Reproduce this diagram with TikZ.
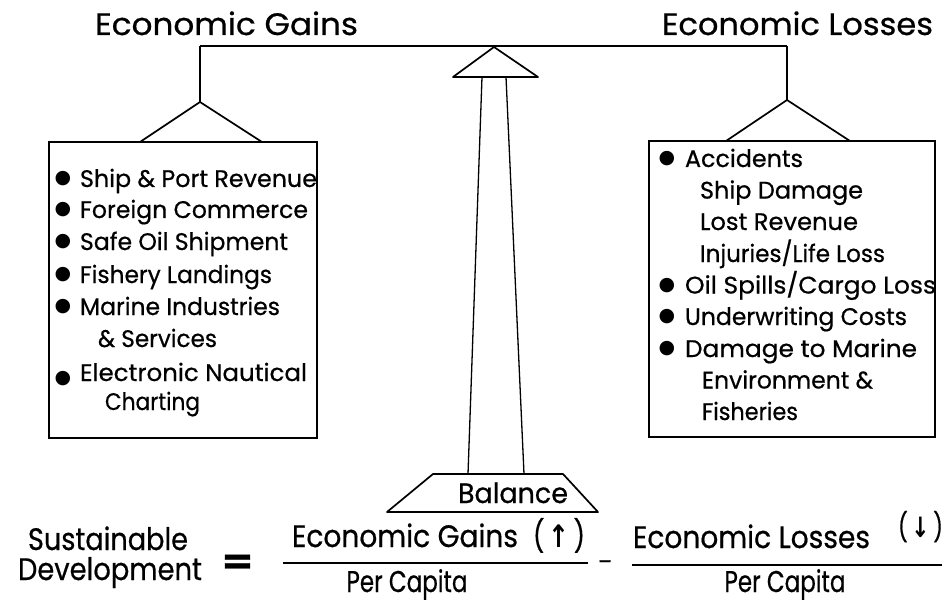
\documentclass[tikz,border=0pt]{standalone}
\usepackage{fontspec}
\usepackage{graphicx}
\setmainfont{Poppins}[FakeBold=0.6]
\newfontfamily\symfont{DejaVu Sans}
% set a text to a given width, keeping its natural height
\newcommand\fitw[2]{\resizebox{#1}{\height}{#2}}

\begin{document}
\begin{tikzpicture}[x=1pt,y=-1pt,
  every node/.style={inner sep=0pt,outer sep=0pt},
  big/.style={font=\fontsize{31}{36}\selectfont,anchor=base west},
  item/.style={font=\fontsize{24}{30}\selectfont,anchor=base west},
  dot/.style={font=\symfont\fontsize{19}{20}\selectfont,anchor=center},
  beam/.style={line width=2.6pt},
  frame/.style={line width=1.7pt},
  post/.style={line width=1.3pt}]

\useasboundingbox (0,0) rectangle (947,604);

% ---- balance beam and hangers ----
\coordinate (bl) at (200,46);
\coordinate (br) at (787,46);
\coordinate (lapex) at (200,102);
\coordinate (rapex) at (787,100);
\draw[beam] (bl) -- (br);
\draw[frame] (bl) -- (lapex);
\draw[frame] (br) -- (rapex);
\draw[frame] (140,142) -- (lapex) -- (262,142);
\draw[frame] (726,141) -- (rapex) -- (850,141);

% ---- boxes ----
\node[draw,frame,anchor=north west,minimum width=268pt,minimum height=296pt] (lbox) at (49,142) {};
\node[draw,frame,anchor=north west,minimum width=286pt,minimum height=296pt] (rbox) at (649,141) {};

% ---- fulcrum, post and base ----
\draw[frame,line join=round] (494,47) -- (453,77) -- (538,77) -- cycle;
\draw[post] (482,77) -- (468,474);
\draw[post] (506,77) -- (524,474);
\draw[frame,line join=round] (433,474) -- (563,474) -- (598,512) -- (387,512) -- cycle;
\node[font=\fontsize{28}{32}\selectfont,anchor=base west] (bal) at (458,503) {\fitw{110pt}{Balance}};

% ---- headings ----
\node[big] (gains) at (95,35) {\fitw{263pt}{Economic Gains}};
\node[big] (losses) at (662,35) {\fitw{271pt}{Economic Losses}};

% ---- gains list ----
\foreach \x/\y/\w/\t [count=\i] in {
  80/187/237/{Ship \& Port Revenue},
  80/218/228/{Foreign Commerce},
  80/250/208/{Safe Oil Shipment},
  80/283/192/{Fishery Landings},
  80/315/200/{Marine Industries},
  98/347/119/{\& Services},
  80/381/227/{Electronic Nautical},
  105/410/95/{Charting}}
  \node[item] (g\i) at (\x,\y) {\fitw{\w pt}{\t}};
\foreach \y [count=\i] in {178.5,209.5,241.5,274.5,306.5,379}
  \node[dot] (gd\i) at (63,\y) {●};

% ---- losses list ----
\foreach \x/\y/\w/\t [count=\i] in {
  685/167/118/{Accidents},
  700/198.6/163/{Ship Damage},
  700/230/158/{Lost Revenue},
  700/262/185/{Injuries/Life Loss},
  685/293.5/251/{Oil Spills/Cargo Loss},
  685/325/222/{Underwriting Costs},
  685/357/232/{Damage to Marine},
  702/388.5/171/{Environment \&},
  702/420/96/{Fisheries}}
  \node[item] (l\i) at (\x,\y) {\fitw{\w pt}{\t}};
\foreach \y [count=\i] in {159,285.5,317,349}
  \node[dot] (ld\i) at (667,\y) {●};

% ---- equation ----
\node[big,anchor=base] (sus) at (108,550) {\fitw{160pt}{Sustainable}};
\node[big,anchor=base] (dev) at (110,580) {\fitw{184pt}{Development}};
\node[font=\bfseries\fontsize{34}{36}\selectfont,anchor=center] (eq) at (237.5,564) {\fitw{31pt}{=}};

\node[big] (ng) at (292,547) {\fitw{226pt}{Economic Gains}};
\node[big] (up) at (533,547) {\fitw{52pt}{(\,{\symfont\bfseries ↑}\,)}};
\node[font=\fontsize{30}{32}\selectfont,anchor=base] (dg) at (407,592) {\fitw{121pt}{Per Capita}};
\draw[frame] (283,563) -- (588,563);

\node[font=\fontsize{24}{26}\selectfont,anchor=base] (minus) at (605,570) {\fitw{14pt}{–}};

\node[big] (nl) at (633,548) {\fitw{237pt}{Economic Losses}};
\node[font=\fontsize{28}{30}\selectfont,anchor=base west] (down) at (898,537) {\fitw{45pt}{(\,{\symfont\bfseries ↓}\,)}};
\node[font=\fontsize{30}{32}\selectfont,anchor=base] (dl) at (785,592) {\fitw{121pt}{Per Capita}};
\draw[frame] (632,565) -- (942,565);
\end{tikzpicture}
\end{document}
